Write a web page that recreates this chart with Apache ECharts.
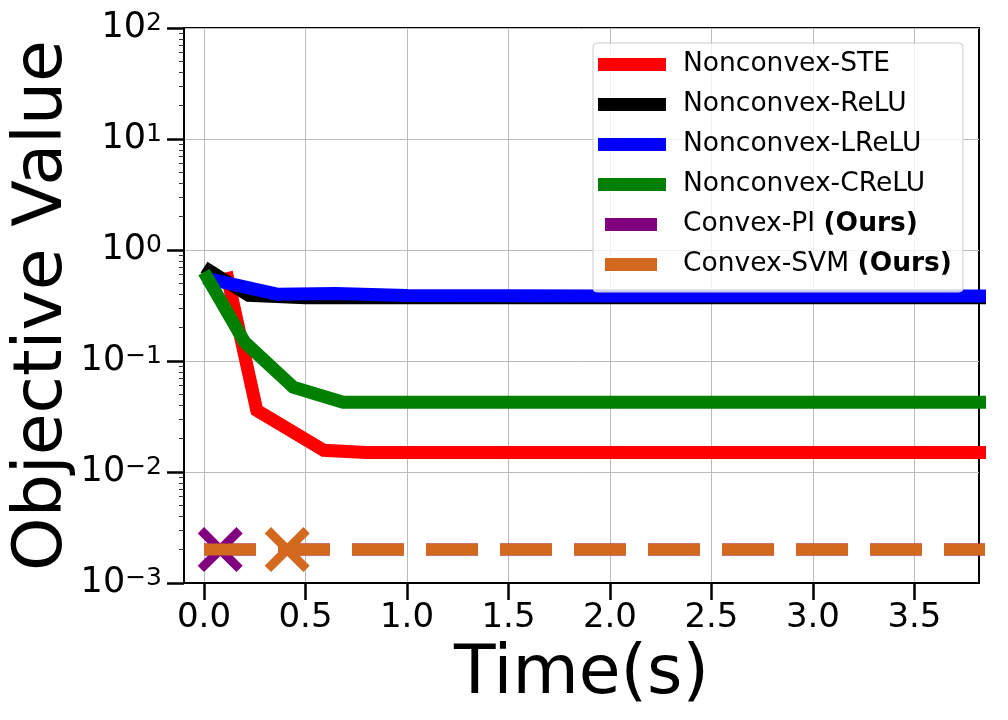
<!DOCTYPE html>
<html><head><meta charset="utf-8">
<script src="https://cdn.jsdelivr.net/npm/echarts@6/dist/echarts.min.js"></script>
<style>html,body{margin:0;padding:0;background:#fff}#c{width:1008px;height:720px}</style>
</head><body><div id="c"></div>
<script>
// ---- data ----
const steTime   = [0.11, 0.26, 0.59, 0.80, 1.50, 2.50, 3.90];
const steValue  = [0.63, 0.036, 0.0157, 0.0150, 0.0150, 0.0150, 0.0150];
const reluTime  = [0.00, 0.22, 0.50, 1.00, 2.00, 3.90];
const reluValue = [0.70, 0.39, 0.372, 0.372, 0.372, 0.372];
const lreluTime = [0.00, 0.36, 0.65, 1.00, 2.00, 3.90];
const lreluValue= [0.56, 0.40, 0.405, 0.39, 0.385, 0.385];
const creluTime = [0.00, 0.20, 0.44, 0.685, 2.00, 3.90];
const creluValue= [0.634, 0.148, 0.058, 0.0426, 0.0425, 0.0425];
const piTime    = [0.00, 0.08, 3.90];
const piValue   = [0.002, 0.002, 0.002];
const piMark    = 1;
const svmTime   = [0.00, 0.41, 3.90];
const svmValue  = [0.002, 0.002, 0.002];
const svmMark   = 1;
const xTicks    = [0, 0.5, 1.0, 1.5, 2.0, 2.5, 3.0, 3.5];
const yMinorTicks = [0.002,0.003,0.004,0.005,0.006,0.007,0.008,0.009,
  0.02,0.03,0.04,0.05,0.06,0.07,0.08,0.09,
  0.2,0.3,0.4,0.5,0.6,0.7,0.8,0.9,
  2,3,4,5,6,7,8,9,
  20,30,40,50,60,70,80,90];
const seriesNames = ['Nonconvex-STE','Nonconvex-ReLU','Nonconvex-LReLU','Nonconvex-CReLU','Convex-PI','Convex-SVM'];

const FONT = 'DejaVu Sans';
const XMARK = 'path://M0,14L14,0L50,36L86,0L100,14L64,50L100,86L86,100L50,64L14,100L0,86L36,50Z';
const ICON_SOLID = 'path://M0,0h68v13h-68z M79.9,12.9h0.1v0.1h-0.1z';
const ICON_DASH  = 'path://M0,0h0.1v0.1h-0.1z M7,0h52v13h-52z M79.9,12.9h0.1v0.1h-0.1z';

function pairs(t, v) { return t.map((x, i) => [x, v[i]]); }
function solid(name, color, t, v) {
  return { name, type: 'line', data: pairs(t, v), symbol: 'none', color,
    lineStyle: { color, width: 13, cap: 'butt', join: 'miter' }, itemStyle: { color },
    animation: false, clip: true, emphasis: { disabled: true } };
}
function convex(name, color, t, v, mark, z) {
  const data = t.map((x, i) => i === mark ? { value: [x, v[i]] } : { value: [x, v[i]], symbol: 'none' });
  return { name, type: 'line', data, symbol: XMARK, symbolSize: 45, showSymbol: true, showAllSymbol: true,
    color, z, lineStyle: { color, width: 12, type: [52, 22], cap: 'butt' },
    itemStyle: { color, borderWidth: 0 }, animation: false, clip: true, emphasis: { disabled: true } };
}

const chart = echarts.init(document.getElementById('c'), null, { renderer: 'canvas' });
chart.setOption({
  backgroundColor: '#fff',
  animation: false,
  textStyle: { fontFamily: FONT },
  grid: { left: 184, right: 29, top: 28, bottom: 137, outerBoundsMode: 'none', containLabel: false,
    show: true, borderColor: '#000', borderWidth: 2, backgroundColor: 'transparent' },
  legend: {
    orient: 'vertical', left: 593, top: 43, padding: [8, 11, 14, 5],
    itemWidth: 80, itemHeight: 13, itemGap: 13,
    backgroundColor: 'rgba(255,255,255,0.8)', borderColor: '#cccccc', borderWidth: 1, borderRadius: 4,
    itemStyle: { borderWidth: 0 },
    data: [
      { name: seriesNames[0], icon: ICON_SOLID },
      { name: seriesNames[1], icon: ICON_SOLID },
      { name: seriesNames[2], icon: ICON_SOLID },
      { name: seriesNames[3], icon: ICON_SOLID },
      { name: seriesNames[4], icon: ICON_DASH },
      { name: seriesNames[5], icon: ICON_DASH }
    ],
    formatter: n => n.startsWith('Convex') ? '{n|' + n + '} {b|(Ours)}' : n,
    textStyle: { fontSize: 26.5, color: '#000', fontFamily: FONT,
      rich: { n: { fontSize: 26.5, color: '#000', fontFamily: FONT },
              b: { fontSize: 26.5, color: '#000', fontFamily: FONT, fontWeight: 'bold' } } },
    selectedMode: false
  },
  xAxis: {
    type: 'value', min: -0.0985, max: 3.818,
    name: 'Time(s)', nameLocation: 'middle', nameGap: 58, nameMoveOverlap: false,
    nameTextStyle: { fontSize: 68, color: '#000', fontFamily: FONT },
    axisLine: { onZero: false, lineStyle: { color: '#000', width: 2 } },
    axisTick: { customValues: xTicks, length: 17, lineStyle: { color: '#000', width: 2.5 } },
    axisLabel: { customValues: xTicks, fontSize: 34, color: '#000', margin: 18, fontFamily: FONT,
      formatter: v => v.toFixed(1) },
    splitLine: { show: true, lineStyle: { color: '#bbbbbb', width: 1 } }
  },
  yAxis: [{
    type: 'log', logBase: 10, min: 0.001, max: 100, splitNumber: 5,
    name: 'Objective Value', nameLocation: 'middle', nameGap: 107, nameRotate: 90, nameMoveOverlap: false,
    nameTextStyle: { fontSize: 68, color: '#000', fontFamily: FONT },
    axisLine: { onZero: false, lineStyle: { color: '#000', width: 2 } },
    axisTick: { length: 17, lineStyle: { color: '#000', width: 2.5 } },
    axisLabel: { margin: 22, color: '#000',
      formatter: v => { const e = Math.round(Math.log10(v)); return '{b|10}{s|' + (e < 0 ? '\u2212' + (-e) : '' + e) + '}'; },
      rich: { b: { fontSize: 35, lineHeight: 35, verticalAlign: 'bottom', color: '#000', fontFamily: FONT },
              s: { fontSize: 25, lineHeight: 27, verticalAlign: 'top', color: '#000', fontFamily: FONT } } },
    splitLine: { show: true, lineStyle: { color: '#bbbbbb', width: 1 } }
  }, {
    type: 'log', logBase: 10, min: 0.001, max: 100, position: 'left',
    axisLine: { show: false, onZero: false }, axisLabel: { show: false }, splitLine: { show: false },
    axisTick: { show: true, customValues: yMinorTicks, length: 5, lineStyle: { color: '#333', width: 1 } }
  }],
  series: [
    solid(seriesNames[0], '#ff0000', steTime, steValue),
    solid(seriesNames[1], '#000000', reluTime, reluValue),
    solid(seriesNames[2], '#0000ff', lreluTime, lreluValue),
    solid(seriesNames[3], '#008000', creluTime, creluValue),
    convex(seriesNames[4], '#800080', piTime, piValue, piMark, 2),
    convex(seriesNames[5], '#d2691e', svmTime, svmValue, svmMark, 3)
  ]
});
</script></body></html>
